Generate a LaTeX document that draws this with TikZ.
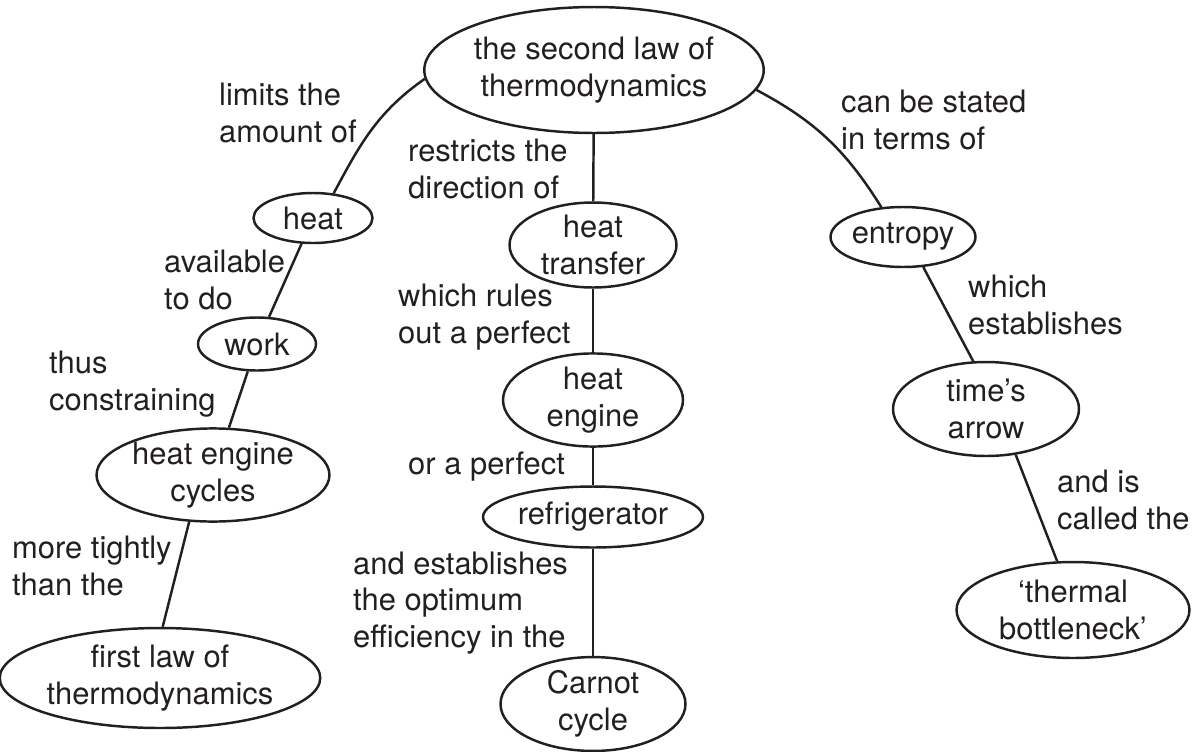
\documentclass[tikz,border=0pt]{standalone}
\usepackage{fontspec}
\setmainfont{TeX Gyre Heros}
\usetikzlibrary{shapes.geometric}
\definecolor{ink}{HTML}{231F20}
\begin{document}
\begin{tikzpicture}[x=0.02cm,y=-0.02cm,line width=1.4pt,color=ink,
  every node/.style={font=\fontsize{17.6}{20.8}\selectfont},
  concept/.style={draw,ellipse,inner sep=0pt,align=center},
  linking/.style={anchor=west,align=left,inner sep=0pt}]
\useasboundingbox (0,0) rectangle (1197,751);
% concepts
\node[concept,minimum width=6.44cm,minimum height=2.52cm] (second) at (594,70) {the second law of\\thermodynamics};
\node[concept,minimum width=2.38cm,minimum height=1.0cm] (heat) at (313,218) {heat};
\node[concept,minimum width=3.34cm,minimum height=1.7cm] (transfer) at (593,245) {heat\\transfer};
\node[concept,minimum width=2.8cm,minimum height=1.2cm] (entropy) at (903,237) {entropy};
\node[concept,minimum width=2.36cm,minimum height=1.06cm] (work) at (257,344) {work};
\node[concept,minimum width=3.6cm,minimum height=1.78cm] (engine) at (593,400) {heat\\engine};
\node[concept,minimum width=3.72cm,minimum height=1.88cm] (times) at (986,409) {time’s\\arrow};
\node[concept,minimum width=4.66cm,minimum height=1.76cm] (cycles) at (213,475) {heat engine\\cycles};
\node[concept,minimum width=4.4cm,minimum height=1.22cm] (fridge) at (593,517) {refrigerator};
\node[concept,minimum width=5.68cm,minimum height=2.0cm] (firstlaw) at (160,678) {first law of\\thermodynamics};
\node[concept,minimum width=3.7cm,minimum height=1.82cm] (carnot) at (593,704) {Carnot\\cycle};
\node[concept,minimum width=4.66cm,minimum height=1.92cm] (bottleneck) at (1073,610) {‘thermal\\bottleneck’};
% linking phrases
\node[linking] (limits) at (218,113) {limits the\\amount of};
\node[linking] (restricts) at (407,169) {restricts the\\direction of};
\node[linking] (stated) at (840,120) {can be stated\\in terms of};
\node[linking] (available) at (163,280) {available\\to do};
\node[linking] (rules) at (397,317) {which rules\\out a perfect};
\node[linking] (establishes) at (967,305) {which\\establishes};
\node[linking] (constraining) at (48,384) {thus\\constraining};
\node[linking] (orperfect) at (407,467) {or a perfect};
\node[linking] (calledthe) at (1056,500) {and is\\called the};
\node[linking] (tightly) at (11,566) {more tightly\\than the};
\node[linking] (optimum) at (352,603) {and establishes\\the optimum\\efficiency in the};
% links
\draw (second.183) to[out=215,in=62] (heat.50);
\draw (second.353) to[out=-28,in=122] (entropy.126);
\draw (second) -- (transfer);
\draw (transfer) -- (engine);
\draw (engine) -- (fridge);
\draw (fridge) -- (carnot);
\draw (heat) -- (work);
\draw (work) -- (cycles);
\draw (cycles.243) -- (firstlaw.87);
\draw (entropy.304) -- (times.105);
\draw (times.303) -- (bottleneck.108);
\end{tikzpicture}
\end{document}
